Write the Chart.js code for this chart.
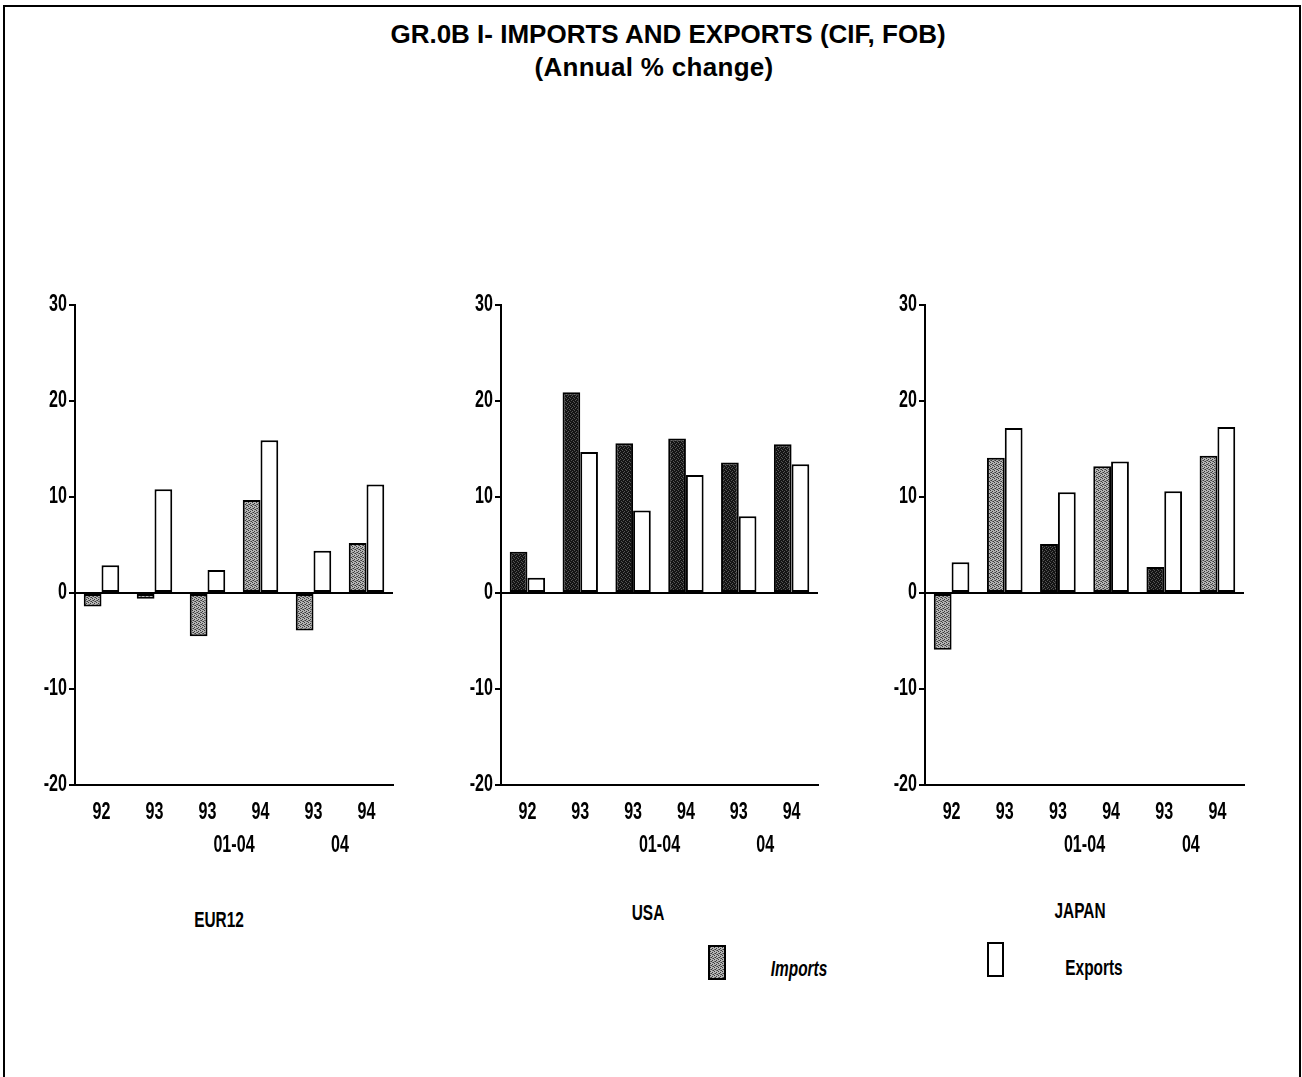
<!DOCTYPE html>
<html>
<head>
<meta charset="utf-8">
<script src="https://cdn.jsdelivr.net/npm/chart.js@4/dist/chart.umd.min.js"></script>
<style>
  html, body { margin: 0; padding: 0; background: #fff; }
  body { width: 1302px; height: 1077px; position: relative; overflow: hidden; }
  .frame { position: absolute; left: 3px; top: 5px; width: 1294px; height: 1100px;
           border-top: 2px solid #000; border-left: 2px solid #000; border-right: 2px solid #000; }
  .txt { position: absolute; white-space: nowrap; color: #000; }
  .title { font-family: 'Liberation Sans', Arial, sans-serif; font-weight: bold; font-size: 26px; transform: translate(-50%, -50%); }
  .narrow { font-family: 'Liberation Sans', Arial, sans-serif; font-weight: bold; font-size: 22px; transform: translate(-50%, -50%) scaleX(0.7); }
  .panel { position: absolute; top: 290px; }
  .sw { position: absolute; box-sizing: border-box; border: 2px solid #000; }
</style>
</head>
<body>
<div class="frame"></div>
<div class="txt title" style="left:668px; top:34px;">GR.0B I- IMPORTS AND EXPORTS (CIF, FOB)</div>
<div class="txt title" style="left:654px; top:67px; letter-spacing:0.3px;">(Annual % change)</div>

<div class="panel" style="left:20px;"><canvas id="c1" width="385" height="580"></canvas></div>
<div class="panel" style="left:446px;"><canvas id="c2" width="384" height="580"></canvas></div>
<div class="panel" style="left:870px;"><canvas id="c3" width="386" height="580"></canvas></div>

<div class="txt narrow" id="n1" style="left:219px; top:920px;"></div>
<div class="txt narrow" id="n2" style="left:648px; top:913px;"></div>
<div class="txt narrow" id="n3" style="left:1080px; top:911px;"></div>

<div class="sw" id="swImp" style="left:708px; top:945px; width:18px; height:35px;"></div>
<div class="txt narrow" id="lgImp" style="left:799px; top:969px; font-style:italic;"></div>
<div class="sw" style="left:987px; top:942px; width:17px; height:35px; background:#fff;"></div>
<div class="txt narrow" id="lgExp" style="left:1094px; top:968px;"></div>

<script>
// ---- data ----
const categories = ['92', '93', '93', '94', '93', '94'];
const groupLabels = ['01-04', '04'];
const groupStarts = [2, 4];
const panelNames = ['EUR12', 'USA', 'JAPAN'];
const seriesNames = ['Imports', 'Exports'];

const eurImports = [-1.4, -0.6, -4.5, 9.7, -3.9, 5.2];
const eurExports = [2.9, 10.8, 2.4, 15.9, 4.4, 11.3];
const usaImports = [4.3, 20.9, 15.6, 16.1, 13.6, 15.5];
const usaExports = [1.6, 14.7, 8.6, 12.3, 8.0, 13.4];
const jpnImports = [-5.9, 14.1, 5.1, 13.2, 2.7, 14.3];
const jpnExports = [3.2, 17.2, 10.5, 13.7, 10.6, 17.3];

const yMin = -20, yMax = 30, yStep = 10;

// ---- styles ----
const LABEL_FONT = "bold 23px 'Liberation Sans', Arial, sans-serif";
const SQUEEZE = 0.7;

function makePattern(base, dot, dot2) {
  const c = document.createElement('canvas');
  c.width = 4; c.height = 4;
  const g = c.getContext('2d');
  g.fillStyle = base; g.fillRect(0, 0, 4, 4);
  g.fillStyle = dot;
  g.fillRect(0, 0, 1, 1); g.fillRect(2, 1, 1, 1); g.fillRect(1, 2, 1, 1); g.fillRect(3, 3, 1, 1);
  if (dot2) { g.fillStyle = dot2; g.fillRect(2, 3, 1, 1); g.fillRect(0, 2, 1, 1); }
  return c;
}
const midCanvas = makePattern('#b4b4b4', '#3a3a3a', '#6a6a6a');
const darkCanvas = makePattern('#141414', '#555555', null);
const ctxTmp = document.createElement('canvas').getContext('2d');
const patMid = ctxTmp.createPattern(midCanvas, 'repeat');
const patDark = ctxTmp.createPattern(darkCanvas, 'repeat');

document.getElementById('swImp').style.background = 'url(' + midCanvas.toDataURL() + ')';
document.getElementById('lgImp').textContent = seriesNames[0];
document.getElementById('lgExp').textContent = seriesNames[1];
['n1', 'n2', 'n3'].forEach((id, i) => document.getElementById(id).textContent = panelNames[i]);

function drawNarrow(c, txt, x, y, align) {
  c.save();
  c.translate(x, y);
  c.scale(SQUEEZE, 1);
  c.font = LABEL_FONT;
  c.fillStyle = '#000';
  c.textAlign = align;
  c.textBaseline = 'middle';
  c.fillText(txt, 0, 0);
  c.restore();
}

const labelPlugin = {
  id: 'narrowLabels',
  afterDraw(chart) {
    const xs = chart.scales.x, ys = chart.scales.y, c = chart.ctx;
    const area = chart.chartArea;
    ys.ticks.forEach((t, i) => {
      drawNarrow(c, String(t.value), area.left - 8, ys.getPixelForTick(i), 'right');
    });
    xs.ticks.forEach((t, i) => {
      drawNarrow(c, xs.getLabelForValue(t.value), xs.getPixelForTick(i), area.bottom + 28, 'center');
    });
    groupLabels.forEach((lab, i) => {
      const s = groupStarts[i];
      const px = (xs.getPixelForValue(s) + xs.getPixelForValue(s + 1)) / 2;
      drawNarrow(c, lab, px, area.bottom + 61, 'center');
    });
  }
};

function makeChart(id, imp, exp, impColors) {
  return new Chart(document.getElementById(id), {
    type: 'bar',
    data: {
      labels: categories,
      datasets: [
        { label: seriesNames[0], data: imp, backgroundColor: impColors, borderColor: '#000', borderWidth: 2, borderSkipped: false },
        { label: seriesNames[1], data: exp, backgroundColor: '#ffffff', borderColor: '#000', borderWidth: 2, borderSkipped: false }
      ]
    },
    options: {
      responsive: false,
      animation: false,
      devicePixelRatio: 1,
      layout: { padding: { top: 15, right: 12, left: 0, bottom: 0 } },
      plugins: { legend: { display: false }, tooltip: { enabled: false } },
      datasets: { bar: { categoryPercentage: 0.67, barPercentage: 1.0 } },
      scales: {
        x: {
          offset: true,
          grid: { display: false },
          border: { display: true, color: '#000', width: 2 },
          ticks: { display: false },
          afterFit(scale) { scale.height = 85; }
        },
        y: {
          min: yMin, max: yMax,
          grid: {
            drawOnChartArea: true,
            color: (c) => (c.tick && c.tick.value === 0) ? '#000' : 'rgba(0,0,0,0)',
            lineWidth: 2,
            tickColor: '#000',
            tickLength: 6
          },
          border: { display: true, color: '#000', width: 2 },
          ticks: { display: false, stepSize: yStep },
          afterFit(scale) { scale.width = 55; }
        }
      }
    },
    plugins: [labelPlugin]
  });
}

makeChart('c1', eurImports, eurExports, [patMid, patMid, patMid, patMid, patMid, patMid]);
makeChart('c2', usaImports, usaExports, [patDark, patDark, patDark, patDark, patDark, patDark]);
makeChart('c3', jpnImports, jpnExports, [patMid, patMid, patDark, patMid, patDark, patMid]);
</script>
</body>
</html>
